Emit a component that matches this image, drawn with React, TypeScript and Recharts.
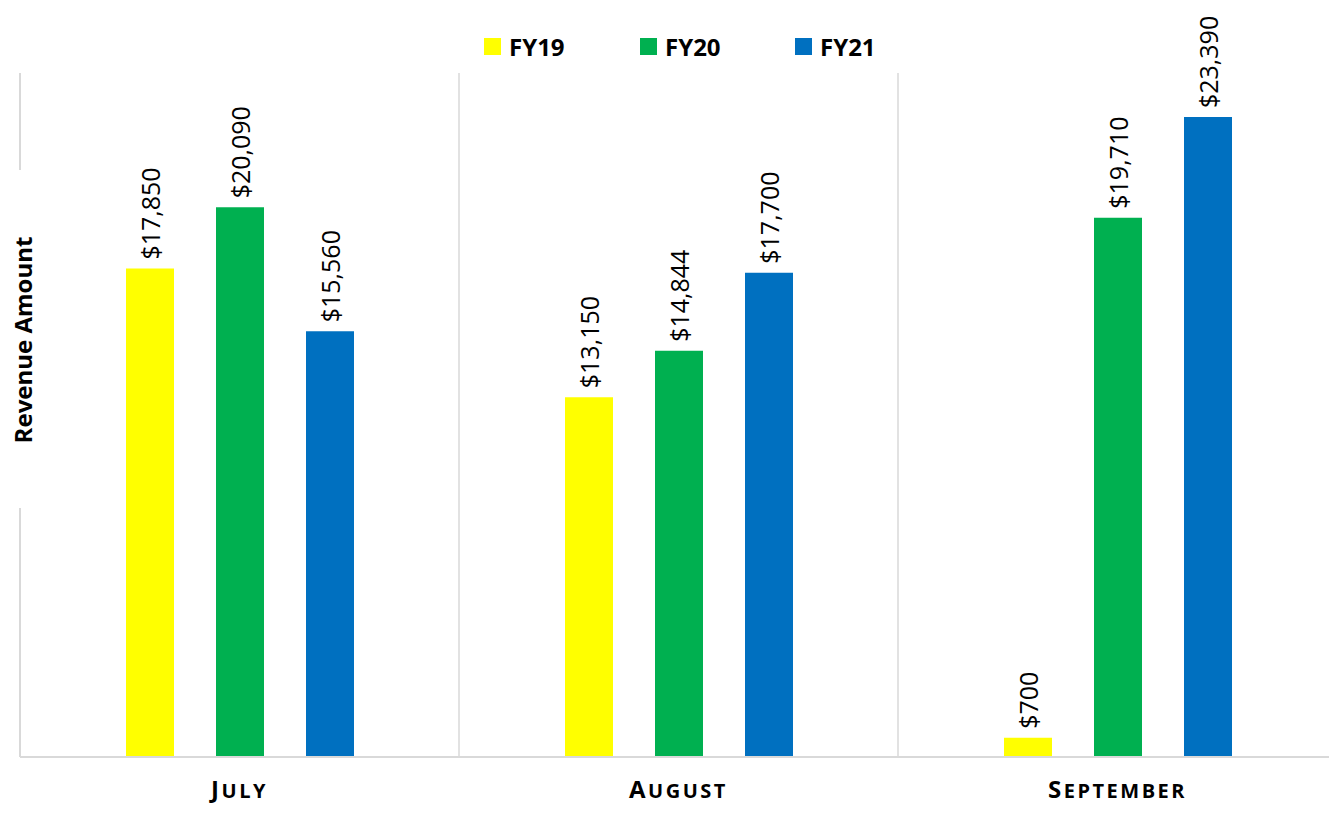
import React from "react";
import { BarChart, Bar, XAxis, YAxis, CartesianGrid, LabelList } from "recharts";

const months = ["July", "August", "September"];
const fy19 = [17850, 13150, 700];
const fy20 = [20090, 14844, 19710];
const fy21 = [15560, 17700, 23390];

const series = [
    { key: "FY19", values: fy19, color: "#FFFF00" },
    { key: "FY20", values: fy20, color: "#00B050" },
    { key: "FY21", values: fy21, color: "#0070C0" },
];

const data = months.map((m, i) => ({
    name: m,
    FY19: fy19[i],
    FY20: fy20[i],
    FY21: fy21[i],
}));

const font = "'Open Sans', sans-serif";
const grey = "#d9d9d9";

const money = (v: number) => "$" + v.toLocaleString("en-US");

const ValueLabel = (props: any) => {
    const { x, y, width, value } = props;
    const cx = x + width / 2;
    const cy = y - 9;
    return (
        <text
            x={cx}
            y={cy}
            transform={`rotate(-90 ${cx} ${cy})`}
            textAnchor="start"
            dominantBaseline="central"
            fontFamily={font}
            fontSize={25}
            fill="#000"
        >
            {money(value)}
        </text>
    );
};

// small caps drawn by hand: first letter full size, the rest uppercase a bit smaller
const MonthTick = (props: any) => {
    const { x, y, payload } = props;
    const s: string = payload.value;
    return (
        <text
            x={x}
            y={y + 33}
            textAnchor="middle"
            fontFamily={font}
            fontWeight="bold"
            letterSpacing={2.5}
            fill="#000"
        >
            <tspan fontSize={24}>{s[0].toUpperCase()}</tspan>
            <tspan fontSize={20}>{s.slice(1).toUpperCase()}</tspan>
        </text>
    );
};

const AxisTitle = () => {
    const cx = 22;
    const cy = 340;
    return (
        <g>
            <rect x={0} y={170} width={40} height={338} fill="#fff" />
            <text
                x={cx}
                y={cy}
                transform={`rotate(-90 ${cx} ${cy})`}
                textAnchor="middle"
                dominantBaseline="central"
                fontFamily={font}
                fontWeight="bold"
                fontSize={24}
                fill="#000"
            >
                Revenue Amount
            </text>
        </g>
    );
};

const legendLeft = [484, 640, 795];

export default function App() {
    return (
        <div style={{ margin: -8, position: "relative", width: 1337, height: 817, background: "#fff" }}>
            <BarChart
                width={1337}
                height={817}
                data={data}
                margin={{ top: 73, right: 0, left: 0, bottom: 0 }}
                barSize={48}
                barGap={42}
            >
                <CartesianGrid
                    horizontal={false}
                    stroke={grey}
                    strokeWidth={1.5}
                    verticalCoordinatesGenerator={({ offset }: any) =>
                        [1, 2, 3].map((i) => offset.left + (i * offset.width) / months.length)
                    }
                />
                <XAxis
                    dataKey="name"
                    height={60}
                    axisLine={{ stroke: grey, strokeWidth: 2 }}
                    tickLine={false}
                    tick={<MonthTick />}
                    interval={0}
                />
                <YAxis
                    width={20}
                    domain={[0, 25000]}
                    tick={false}
                    tickLine={false}
                    axisLine={{ stroke: grey, strokeWidth: 2 }}
                    label={<AxisTitle />}
                />
                {series.map((s) => (
                    <Bar key={s.key} dataKey={s.key} fill={s.color} isAnimationActive={false}>
                        <LabelList dataKey={s.key} content={<ValueLabel />} />
                    </Bar>
                ))}
            </BarChart>
            {series.map((s, i) => (
                <div
                    key={s.key}
                    style={{
                        position: "absolute",
                        left: legendLeft[i],
                        top: 30,
                        display: "flex",
                        alignItems: "center",
                        fontFamily: font,
                        fontWeight: "bold",
                        fontSize: 24,
                        color: "#000",
                    }}
                >
                    <span style={{ display: "inline-block", width: 17, height: 17, background: s.color, marginRight: 8 }} />
                    {s.key}
                </div>
            ))}
        </div>
    );
}
